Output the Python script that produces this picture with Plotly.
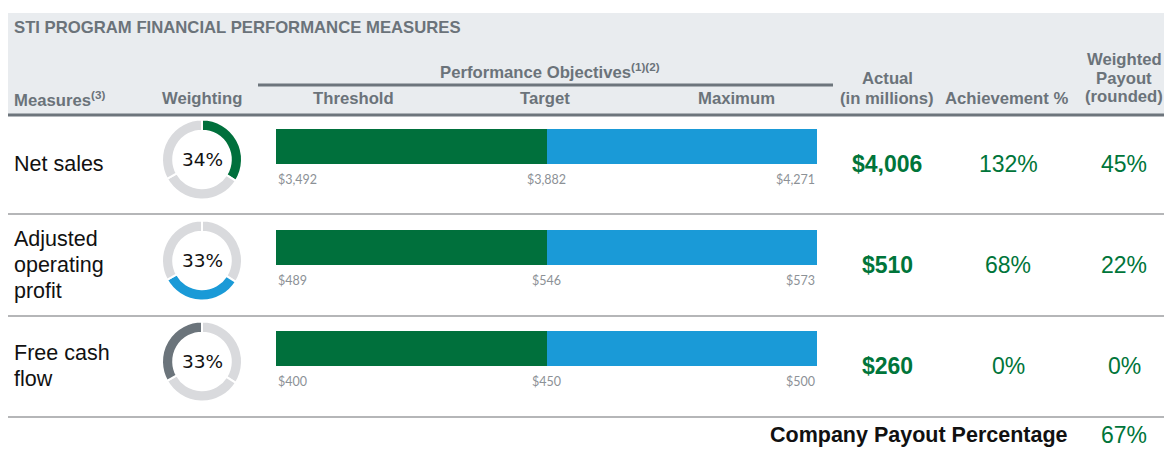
import plotly.graph_objects as go

# ---------------- data ----------------
measures = ["Net sales", "Adjusted<br>operating<br>profit", "Free cash<br>flow"]
weights = [34, 33, 33]
levels = ["Threshold", "Target", "Maximum"]
threshold = [3492, 489, 400]
target = [3882, 546, 450]
maximum = [4271, 573, 500]
actual = [4006, 510, 260]
achievement = [132, 68, 0]
payout = [45, 22, 0]
company_payout = 67

# ---------------- style ----------------
W, H = 1164, 449
GREEN = "#00703c"
GREEN_TXT = "#00753a"
BLUE = "#1a9ad7"
DARK = "#6b747b"
LIGHT = "#d9dadd"
HEAD_TXT = "#6b737a"
TICK_TXT = "#8c9196"
SANS = "Liberation Sans, Arial, sans-serif"
highlight = [GREEN, BLUE, DARK]

ROW0 = 146.5      # pixel centre of first bar
STEP = 101.0      # pixel distance between rows
HSIZE = 16.7      # header font size
LINE_H = 26       # line spacing of the measure labels


def px(x):
    return x / W


def py(y):
    return 1 - y / H


def row_px(i):
    return ROW0 + STEP * i


fig = go.Figure()

rows = list(range(len(measures)))
pos = list(range(len(levels)))

# bars: threshold -> target (green) and target -> maximum (blue)
fig.add_trace(go.Bar(
    y=rows, x=[pos[1] - pos[0]] * len(rows), base=[pos[0]] * len(rows),
    orientation="h", marker=dict(color=GREEN, line=dict(width=0)),
    width=35 / STEP, hoverinfo="skip", showlegend=False))
fig.add_trace(go.Bar(
    y=rows, x=[pos[2] - pos[1]] * len(rows), base=[pos[1]] * len(rows),
    orientation="h", marker=dict(color=BLUE, line=dict(width=0)),
    width=35 / STEP, hoverinfo="skip", showlegend=False))

# donuts
for i in rows:
    cy = row_px(i) + 13
    colors = [LIGHT] * len(weights)
    colors[i] = highlight[i]
    fig.add_trace(go.Pie(
        values=weights, hole=0.72, sort=False, direction="clockwise", rotation=0,
        marker=dict(colors=colors, line=dict(color="white", width=2)),
        textinfo="none", hoverinfo="skip", showlegend=False,
        domain=dict(x=[px(202 - 40), px(202 + 40)], y=[py(cy + 40), py(cy - 40)])))

ann = []


def txt(x, y, text, size, color, bold=False, anchor="center", family=SANS):
    ann.append(dict(x=px(x), y=py(y), xref="paper", yref="paper", text=f"<b>{text}</b>" if bold else text,
                    showarrow=False, xanchor=anchor, yanchor="middle", align=anchor,
                    font=dict(family=family, size=size, color=color)))


# header
txt(12, 27, "STI PROGRAM FINANCIAL PERFORMANCE MEASURES", HSIZE, HEAD_TXT, True, "left")
txt(550, 71, "Performance Objectives<sup>(1)(2)</sup>", HSIZE, HEAD_TXT, True)
txt(12, 99, "Measures<sup>(3)</sup>", HSIZE, HEAD_TXT, True, "left")
txt(202, 99, "Weighting", HSIZE, HEAD_TXT, True)
txt(354, 99, levels[0], HSIZE, HEAD_TXT, True)
txt(545, 99, levels[1], HSIZE, HEAD_TXT, True)
txt(736, 99, levels[2], HSIZE, HEAD_TXT, True)
txt(887, 79, "Actual", HSIZE, HEAD_TXT, True)
txt(887, 99, "(in millions)", HSIZE, HEAD_TXT, True)
txt(1007, 99, "Achievement %", HSIZE, HEAD_TXT, True)
txt(1124, 59, "Weighted", HSIZE, HEAD_TXT, True)
txt(1124, 78, "Payout", HSIZE, HEAD_TXT, True)
txt(1124, 97, "(rounded)", HSIZE, HEAD_TXT, True)

# rows
for i in rows:
    yc = row_px(i) + 17
    lines = measures[i].split("<br>")
    first = yc - LINE_H * (len(lines) - 1) / 2
    for k, line in enumerate(lines):
        txt(12, first + LINE_H * k, line, 21.5, "#111111", False, "left")
    txt(202, row_px(i) + 13, f"{weights[i]}%", 18.5, "#111111", False, "center", "DejaVu Sans, sans-serif")
    txt(887, yc, f"${actual[i]:,}", 23, GREEN_TXT, True)
    txt(1008, yc, f"{achievement[i]}%", 23, GREEN_TXT)
    txt(1124, yc, f"{payout[i]}%", 23, GREEN_TXT)
    # level labels below bar, positioned on the bar axis
    vals = [threshold[i], target[i], maximum[i]]
    for j, a in zip(pos, ["left", "center", "right"]):
        ann.append(dict(x=j, y=i, xref="x", yref="y", text=f"${vals[j]:,}", showarrow=False,
                        xanchor=a, yanchor="middle", yshift=-33,
                        font=dict(family="Lato, sans-serif", size=12.5, color=TICK_TXT)))

# footer
txt(1070, 435, "Company Payout Percentage", 21.5, "#111111", True, "right")
txt(1124, 435, f"{company_payout}%", 23, GREEN_TXT)

shapes = [
    dict(type="rect", xref="paper", yref="paper", x0=px(8), x1=1, y0=py(115), y1=py(13),
         fillcolor="#e9ecef", line=dict(width=0), layer="below"),
    dict(type="line", xref="paper", yref="paper", x0=px(258), x1=px(833), y0=py(85), y1=py(85),
         line=dict(color="#6d757c", width=3)),
    dict(type="line", xref="paper", yref="paper", x0=px(8), x1=1, y0=py(115), y1=py(115),
         line=dict(color="#6d757c", width=3)),
]
for yy in [214, 316, 417]:
    shapes.append(dict(type="line", xref="paper", yref="paper", x0=px(8), x1=1, y0=py(yy), y1=py(yy),
                       line=dict(color="#b5b6b8", width=2)))

fig.update_layout(
    width=W, height=H, margin=dict(l=0, r=0, t=0, b=0),
    paper_bgcolor="white", plot_bgcolor="rgba(0,0,0,0)",
    barmode="overlay", bargap=0,
    xaxis=dict(domain=[px(276), px(817)], range=[pos[0], pos[-1]], visible=False, fixedrange=True),
    yaxis=dict(domain=[0, 1], range=[(H - ROW0) / STEP, -ROW0 / STEP], visible=False, fixedrange=True),
    annotations=ann, shapes=shapes,
)

fig.write_html("out.html", config={"displayModeBar": False},
               post_script="document.body.style.margin='0';document.body.style.overflow='hidden';")
